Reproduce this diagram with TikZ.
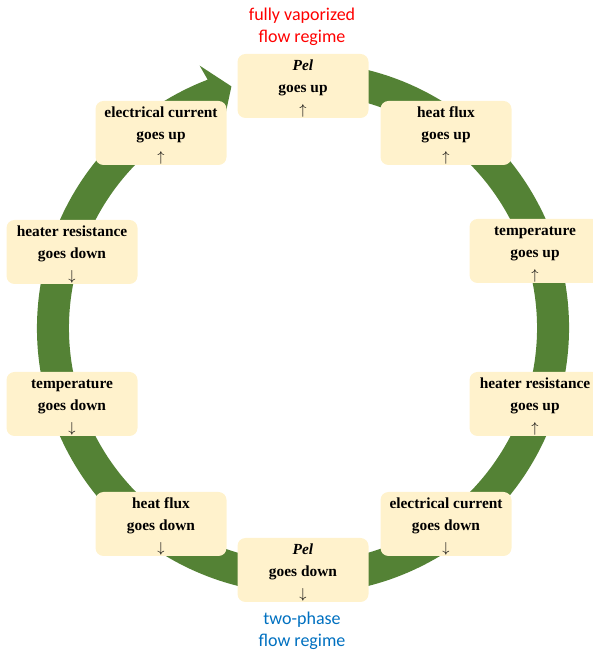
\documentclass[tikz,border=0pt]{standalone}
\usepackage{fontspec}
\setmainfont{Liberation Serif}
\newfontfamily\labelfont{Carlito}
\definecolor{ringgreen}{HTML}{548235}
\definecolor{boxfill}{HTML}{FFF2CC}
\definecolor{vapred}{HTML}{FF0000}
\definecolor{phaseblue}{HTML}{0070C0}
\newcommand{\upmark}{\raisebox{-1pt}{$\uparrow$}}
\newcommand{\downmark}{\raisebox{-1pt}{$\downarrow$}}
\newcommand{\tallstrut}{\rule{0pt}{15pt}}
\begin{document}
\begin{tikzpicture}[x=1pt,y=1pt,
  stagebox/.style={fill=boxfill, rounded corners=8pt, minimum width=131pt, minimum height=64pt, inner sep=0pt, align=center, font=\fontsize{15.4}{22}\selectfont\bfseries},
  regime/.style={align=center, font=\labelfont\fontsize{18}{22}\selectfont}]
\useasboundingbox (0,0) rectangle (593,650);
\clip (0,0) rectangle (593,650);
\coordinate (C) at (303,322);
\fill[ringgreen] ([shift={(80:266pt)}]C) arc[start angle=80,end angle=-249,radius=266pt]
  -- ([shift={(111.5:282pt)}]C) -- ([shift={(106.5:252pt)}]C) -- ([shift={(111.5:218pt)}]C)
  -- ([shift={(111.5:234pt)}]C) arc[start angle=111.5,end angle=440,radius=234pt] -- cycle;
\node[stagebox] (pelup) at (303,564) {\tallstrut\textit{Pel}\\goes up\\[-1pt]\upmark};
\node[stagebox] (fluxup) at (446,517) {\tallstrut heat flux\\goes up\\[-1pt]\upmark};
\node[stagebox] (tempup) at (535,399) {\tallstrut temperature\\goes up\\[-1pt]\upmark};
\node[stagebox] (resup) at (535,246) {\tallstrut heater resistance\\goes up\\[-1pt]\upmark};
\node[stagebox] (curdown) at (446,126) {\tallstrut electrical current\\goes down\\[-1pt]\downmark};
\node[stagebox] (peldown) at (303,80) {\tallstrut\textit{Pel}\\goes down\\[-1pt]\downmark};
\node[stagebox] (fluxdown) at (161,126) {\tallstrut heat flux\\goes down\\[-1pt]\downmark};
\node[stagebox] (tempdown) at (72,246) {\tallstrut temperature\\goes down\\[-1pt]\downmark};
\node[stagebox] (resdown) at (72,398) {\tallstrut heater resistance\\goes down\\[-1pt]\downmark};
\node[stagebox] (curup) at (161,517) {\tallstrut electrical current\\goes up\\[-1pt]\upmark};
\node[regime, text=vapred] (vap) at (302,623) {fully vaporized\\flow regime};
\node[regime, text=phaseblue] (two) at (302,19.5) {two-phase\\flow regime};
\end{tikzpicture}
\end{document}
